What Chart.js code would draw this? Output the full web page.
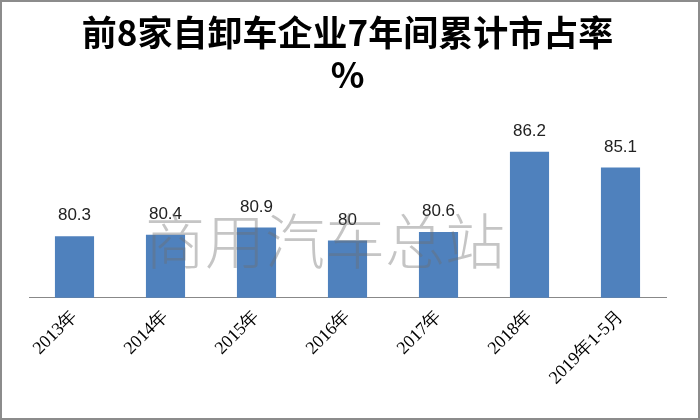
<!DOCTYPE html>
<html><head><meta charset="utf-8">
<script src="https://cdn.jsdelivr.net/npm/chart.js@4"></script>
<style>
html,body{margin:0;padding:0;background:#fff;}
#wrap{position:absolute;left:0;top:0;width:696px;height:416px;border:2px solid #8c8c8c;}
</style></head><body>
<div id="wrap"><canvas id="c" width="696" height="416"></canvas></div>
<script>
const categories=["2013年","2014年","2015年","2016年","2017年","2018年","2019年1-5月"];
const values=[80.3,80.4,80.9,80,80.6,86.2,85.1];
const titleLines=["前8家自卸车企业7年间累计市占率","%"];
const watermark="商用汽车总站";

const labelsPlugin={id:'lbl',afterDatasetsDraw(chart){
  const ctx=chart.ctx;const meta=chart.getDatasetMeta(0);
  ctx.save();ctx.font='17px "Liberation Sans", Arial';ctx.fillStyle='#222';ctx.textAlign='center';ctx.textBaseline='bottom';
  meta.data.forEach((b,i)=>ctx.fillText(String(values[i]),b.x,b.y-12));
  ctx.font='300 60px "Noto Sans CJK SC"';ctx.fillStyle='rgba(110,110,110,0.4)';ctx.textAlign='left';ctx.textBaseline='alphabetic';
  ctx.fillText(watermark,143,262);
  ctx.restore();
}};
new Chart(document.getElementById('c'),{
  type:'bar',
  data:{labels:categories,datasets:[{data:values,backgroundColor:'#4f81bd',borderWidth:0,barPercentage:0.43,categoryPercentage:1}]},
  options:{responsive:false,animation:false,
    layout:{padding:{left:27,right:32,top:0,bottom:21}},
    plugins:{legend:{display:false},tooltip:{enabled:false},
      title:{display:true,text:titleLines,font:{size:35,weight:'bold',family:'"Noto Sans CJK SC"',lineHeight:1.2},color:'#000',padding:{top:10,bottom:37}}},
    scales:{
      y:{display:false,min:76,max:87.5},
      x:{grid:{display:false,drawTicks:false},border:{color:'#888'},
        ticks:{color:'#000',maxRotation:45,minRotation:45,padding:8,font:{size:18,family:'"Liberation Serif"'}}}
    }},
  plugins:[labelsPlugin]
});
</script></body></html>
